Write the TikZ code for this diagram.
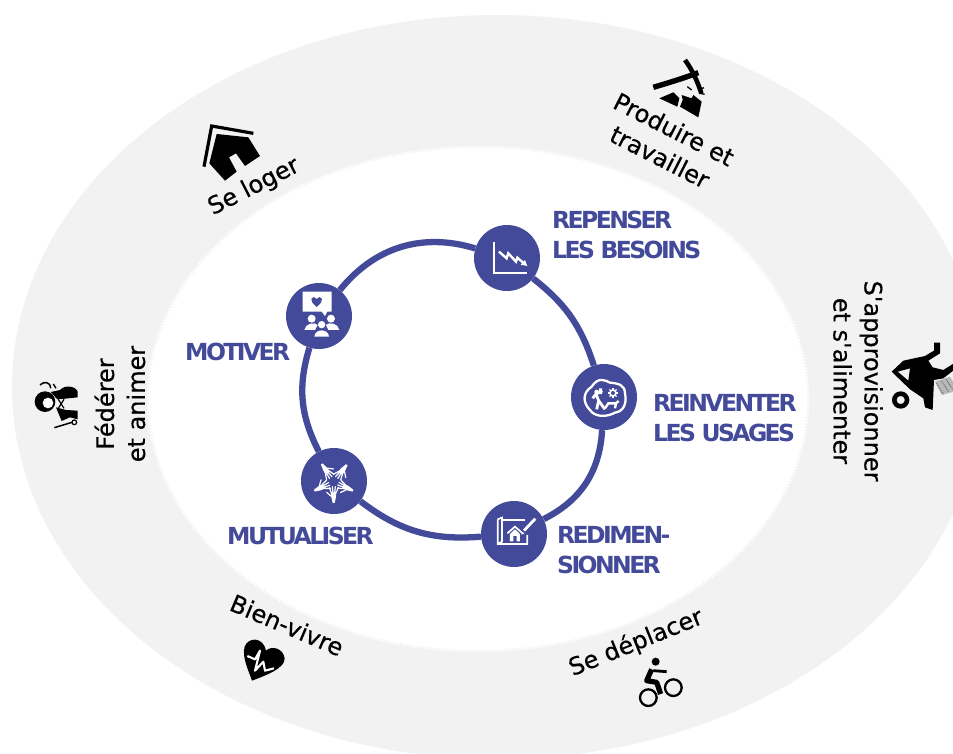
\documentclass[tikz,border=0pt]{standalone}
\usepackage{fontspec}
\setmainfont{DejaVu Sans}
\newfontfamily\labfont[LetterSpace=-11]{DejaVu Sans}
\newfontfamily\themefont[FakeBold=0.4]{DejaVu Sans}
\definecolor{ringblue}{HTML}{434A99}
\definecolor{ringgrey}{HTML}{F2F2F2}
\tikzset{
  hub/.style={circle,fill=ringblue,minimum size=66pt,inner sep=0pt},
  link/.style={draw=ringblue,line width=6.3pt},
  bluelabel/.style={text=ringblue,font=\labfont\bfseries\fontsize{23.5}{30.5}\selectfont,align=left,inner sep=0pt,anchor=west},
  themelabel/.style={text=black,font=\themefont\fontsize{24}{31}\selectfont,align=center,inner sep=0pt},
  zoomed/.style={x=0.3333pt,y=-0.3333pt},
  wi/.style={draw=white,line width=2pt,line join=round},
}
\begin{document}
\begin{tikzpicture}[x=1pt,y=-1pt]
\clip (0,0) rectangle (953,753);
\fill[white] (0,0) rectangle (953,753);
% rings
\fill[ringgrey] (497,387) ellipse [x radius=485,y radius=372];
\fill[white] (478,399) ellipse [x radius=329,y radius=251];
\draw[white,line width=2.4pt,dash pattern=on 1.6pt off 1.6pt] (478,399) ellipse [x radius=330,y radius=252];
% hubs
\node[hub] (repenser) at (507,258) {};
\node[hub] (reinventer) at (604,397) {};
\node[hub] (redim) at (514,534) {};
\node[hub] (mutual) at (334,481) {};
\node[hub] (motiver) at (319,316) {};
\draw[link] (motiver) to[bend left=34] (repenser);
\draw[link] (repenser) to[bend left=17] (reinventer);
\draw[link] (reinventer) to[bend left=30] (redim);
\draw[link] (redim) to[bend left=21] (mutual);
\draw[link] (mutual) to[bend left=22] (motiver);
% icon: chart
\begin{scope}[shift={(270,210)},zoomed]
\draw[white,line width=1.9pt] (672,95)--(672,188)--(770,188);
\draw[white,line width=2.4pt] (687,125)--(710,145)--(715,130)--(738,155)--(742,143)--(762,160);
\fill[white] (772,168)--(752,164)--(765,150)--cycle;
% icon: motivate
\fill[white] (98,245)--(185,245)--(185,305)--(172,305)--(165,318)--(155,305)--(98,305)--cycle;
\fill[ringblue] (140,291) .. controls (128,280) and (122,274) .. (124,266) .. controls (127,259) and (137,260) .. (140,267) .. controls (143,260) and (153,259) .. (156,266) .. controls (158,274) and (152,280) .. (140,291) -- cycle;
\fill[white] (125,326) circle (12) (183,326) circle (12) (155,344) circle (11);
\fill[white] (103,360) .. controls (105,340) and (135,335) .. (143,345) -- (135,360) -- cycle;
\fill[white] (208,360) .. controls (206,340) and (176,335) .. (168,345) -- (175,360) -- cycle;
\fill[white] (133,380) .. controls (135,355) and (175,355) .. (177,380) -- cycle;
\end{scope}
\begin{scope}[shift={(290,370)},zoomed]
% icon: reinvent
\draw[wi,line width=2.3pt] (905,50) .. controls (925,20) and (945,30) .. (960,38) .. controls (985,40) and (1005,45) .. (1005,70) .. controls (1012,100) and (1000,125) .. (975,128) .. controls (950,142) and (915,142) .. (900,120) .. controls (880,100) and (875,70) .. (905,50) -- cycle;
\draw[white,line width=2.8pt] (920,118)--(926,92)--(945,118) (926,92)--(918,72)--(908,85) (918,72)--(937,62) (932,55)--(932,72);
\fill[white] (920,66) circle (7);
\draw[white,line width=1.6pt] (969,69) circle (9);
\foreach \a in {0,45,...,315} \draw[white,line width=1.2pt] (969,69) ++(\a:10) -- ++(\a:5);
\draw[white,line width=2.4pt] (945,115)--(955,100)--(978,100)--(975,115) (978,100)--(986,93);
% icon: blueprint
\draw[white,line width=1.7pt] (623,448)--(636,443)--(636,515)--(623,522)--(623,448) (636,450)--(705,450) (623,522)--(712,522)--(712,495);
\draw[white,line width=1.7pt] (652,490)--(675,470)--(698,490);
\fill[white] (660,514)--(660,492)--(675,478)--(690,492)--(690,514)--(680,514)--(680,498)--(670,498)--(670,514)--cycle;
\draw[white,line width=2.8pt] (702,482)--(736,446);
\fill[white] (698,486)--(694,494)--(703,491)--cycle;
% icon: hands
\foreach \a in {-90,-25,52,124,205}{
\begin{scope}[shift={(131,335)},rotate=\a]
 \fill[white] (64,-3)--(64,3)--(46,7)--(32,8)--(32,-8)--(46,-7)--cycle;
 \draw[white,line width=1.2pt,line cap=round] (34,-7)--(17,-14) (34,-3)--(15,-5) (34,2)--(15,4) (34,7)--(18,13) (44,7)--(32,21);
\end{scope}}
\end{scope}
% labels
\node[bluelabel] (lrepenser) at (552,235) {REPENSER\\LES BESOINS};
\node[bluelabel] (lreinventer) at (653,418) {REINVENTER\\LES USAGES};
\node[bluelabel] (lredim) at (557,550) {REDIMEN-\\SIONNER};
\node[bluelabel] (lmotiver) at (185,352) {MOTIVER};
\node[bluelabel] (lmutual) at (227,536) {MUTUALISER};
\node[themelabel,rotate=27] (tloger) at (254,187) {Se loger};
\node[themelabel,rotate=-27] (tprod) at (667,143) {Produire et\\travailler};
\node[themelabel,rotate=-90] (tappro) at (858,381) {S'approvisionner\\et s'alimenter};
\node[themelabel,rotate=90] (tfed) at (120,404) {Fédérer\\et animer};
\node[themelabel,rotate=-23] (tbien) at (287,625) {Bien-vivre};
\node[themelabel,rotate=22] (tdepl) at (636,643) {Se déplacer};
% icon house
\begin{scope}[shift={(180,60)},zoomed]
\draw[black,line width=3.2pt,line join=miter] (220,220)--(95,198)--(72,320);
\fill[black] (110,222)--(205,232)--(240,288)--(195,318)--(168,280)--(147,292)--(170,335)--(135,362)--(88,310)--cycle;
\end{scope}
% icon pick
\begin{scope}[shift={(630,60)},zoomed]
\draw[black,line width=5.4pt] (70,82) .. controls (110,70) and (160,55) .. (205,38);
\draw[black,line width=4.6pt] (165,0) .. controls (180,20) and (200,55) .. (214,100);
\fill[black] (88,115)--(130,97)--(148,115)--(142,140)--cycle;
\fill[black] (155,105)--(185,115)--(190,105)--(215,125)--(205,172)--(150,140)--(158,120)--cycle;
\draw[black,line width=1.3pt] (172,80)--(185,90) (210,88)--(222,83) (210,100)--(224,103);
\end{scope}
% icon barrow
\begin{scope}[shift={(860,320)},zoomed]
\fill[black,even odd rule] (222,68)--(240,68)--(240,100)--(205,122)--(218,142)--(250,150)--(282,130)--(282,150)--(250,175)--(222,180)--(218,270)--(195,262)--(190,235)--(150,208)--(95,155)--(130,122)--(195,108)--(222,92)--cycle (113,155)--(150,145)--(145,182)--cycle;
\draw[black,line width=4.6pt] (122,240) circle (19);
\fill[gray!55] (225,185)--(270,170)--(282,190)--(282,215)--(245,225)--cycle;
\draw[black!70,line width=0.7pt,dash pattern=on 1pt off 1pt] (230,190)--(250,222) (245,183)--(265,215) (258,178)--(280,210);
\end{scope}
% icon meeple
\begin{scope}[shift={(20,360)},zoomed]
\fill[black] (75,125) circle (31);
\fill[white] (84,129) circle (16);
\fill[black] (92,96) -- (120,90) .. controls (130,76) and (165,75) .. (173,95) -- (173,112)--(136,116)--(112,118)--cycle;
\fill[black] (108,142)--(138,150)--(173,152)--(173,178)--(150,172)--(125,183)--cycle;
\draw[black,line width=1.2pt] (115,118)--(132,145) (132,118)--(115,145);
\draw[black,line width=1.5pt] (103,203)--(156,187);
\draw[black,line width=1.2pt] (163,187) circle (7);
\draw[black,line width=1.5pt] (60,75) .. controls (70,65) and (90,62) .. (92,85);
\draw[black,line width=1.4pt] (100,72)--(108,85);
\end{scope}
% icon heart
\begin{scope}[shift={(220,630)},zoomed]
\fill[black] (96,152) .. controls (85,120) and (65,80) .. (74,50) .. controls (85,20) and (130,20) .. (138,62) .. controls (155,45) and (190,55) .. (194,85) .. controls (195,115) and (140,135) .. (96,152) -- cycle;
\draw[white,line width=2.1pt,line join=round] (82,78)--(105,88)--(120,62)--(105,122)--(130,95)--(135,122)--(162,115);
\end{scope}
% icon bike
\begin{scope}[shift={(620,650)},zoomed]
\draw[black,line width=2.3pt] (85,143) circle (25) (160,113) circle (25);
\fill[black] (107,35) circle (12);
\draw[black,line width=5.2pt,line join=round] (95,58)--(80,92)--(110,97)--(122,132);
\draw[black,line width=2.8pt,line join=round] (100,62)--(140,65);
\end{scope}
\end{tikzpicture}
\end{document}
